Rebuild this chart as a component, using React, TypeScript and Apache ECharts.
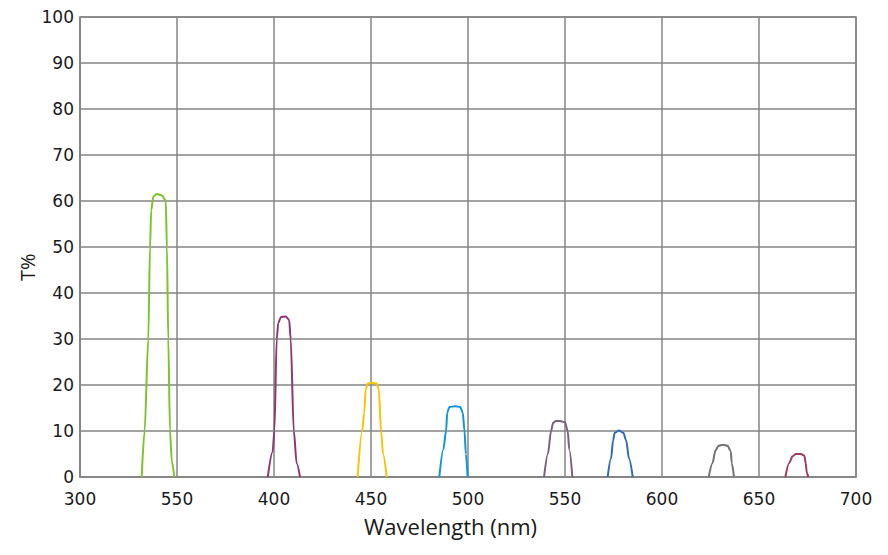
import React, { useEffect, useRef } from "react";
import * as echarts from "echarts";

const xTickLabels = ["300", "550", "400", "450", "500", "550", "600", "650", "700"];
const yTicks = [0, 10, 20, 30, 40, 50, 60, 70, 80, 90, 100];

const greenCurve = [[331.8,0],[333.3,10],[335.2,30],[336.1,50],[336.7,58],[337.8,61],[339.7,61.5],[342.3,61.2],[344.2,60],[344.8,50],[345.5,30],[346.4,10],[347.3,3.5],[348.6,0]];
const purpleCurve = [[396.8,0],[399.3,5.5],[400.2,10],[401.4,30],[402.2,33.5],[403.6,34.8],[406,34.9],[407.8,34.2],[408.6,30],[410.2,10],[411.7,3],[413.4,0]];
const yellowCurve = [[443.1,0],[445.5,10],[446.5,14],[447.3,19],[448.3,20.3],[450.5,20.5],[453,20.3],[454,19],[455.2,10],[456.2,5],[458.1,0]];
const blueCurve = [[485.2,0],[487.3,6],[488.7,10],[489.3,14],[490.4,15.2],[493.3,15.4],[496,15.2],[497.3,14],[498.2,10],[498.9,5],[499.8,0]];
const mauveCurve = [[539.2,0],[541.2,5],[542.8,10],[543.9,11.8],[545.4,12.2],[547.4,12.2],[550,11.9],[551.4,10],[552.2,6],[553.8,0]];
const darkBlueCurve = [[572,0],[573.7,4],[574.8,8],[575.6,9.6],[577.8,10.1],[580.1,9.6],[581.5,8],[583,4],[584.9,0]];
const grayCurve = [[624.1,0],[626,3],[627.6,5.8],[629.2,6.8],[631.4,7],[633.8,6.8],[635.4,5.6],[636,3],[637.1,0]];
const maroonCurve = [[663.6,0],[665.5,3],[667.3,4.5],[669,5],[671.6,5],[673.4,4.6],[674.1,3],[674.6,1],[675.4,0]];

const curves = [
  { name: "f1", data: greenCurve, color: "#7cc42a" },
  { name: "f2", data: purpleCurve, color: "#8c3872" },
  { name: "f3", data: yellowCurve, color: "#f8c400" },
  { name: "f4", data: blueCurve, color: "#0f95d6" },
  { name: "f5", data: mauveCurve, color: "#7a5f7c" },
  { name: "f6", data: darkBlueCurve, color: "#2f6db3" },
  { name: "f7", data: grayCurve, color: "#727272" },
  { name: "f8", data: maroonCurve, color: "#9c3a62" },
];

export default function App() {
  const ref = useRef<HTMLDivElement>(null);
  useEffect(() => {
    if (!ref.current) return;
    const chart = echarts.init(ref.current, undefined, { renderer: "svg" });
    const gridColor = "#858585";
    chart.setOption({
      animation: false,
      backgroundColor: "#ffffff",
      grid: { left: 80, right: 32, top: 17, bottom: 78, show: true, borderColor: gridColor, borderWidth: 1.5 },
      xAxis: {
        type: "value",
        min: 300,
        max: 700,
        interval: 50,
        axisLine: { show: true, lineStyle: { color: gridColor, width: 1.5 } },
        axisTick: { show: false },
        splitLine: { show: true, lineStyle: { color: gridColor, width: 1.5 } },
        axisLabel: {
          margin: 13,
          fontFamily: "DejaVu Sans",
          fontSize: 17,
          color: "#1a1a1a",
          formatter: (v: number) => xTickLabels[Math.round((v - 300) / 50)] ?? "",
        },
      },
      yAxis: {
        type: "value",
        min: yTicks[0],
        max: yTicks[yTicks.length - 1],
        interval: 10,
        axisLine: { show: true, lineStyle: { color: gridColor, width: 1.5 } },
        axisTick: { show: false },
        splitLine: { show: true, lineStyle: { color: gridColor, width: 1.5 } },
        axisLabel: { margin: 6, fontFamily: "DejaVu Sans", fontSize: 17, color: "#1a1a1a" },
      },
      graphic: [
        {
          type: "text",
          left: 364,
          top: 515,
          style: { text: "Wavelength (nm)", font: '22px "Open Sans"', fill: "#1a1a1a" },
        },
        {
          type: "text",
          x: 17,
          y: 281,
          rotation: Math.PI / 2,
          style: { text: "T%", font: '20px "Open Sans"', fill: "#1a1a1a" },
        },
      ],
      series: curves.map((c) => ({
        type: "line",
        name: c.name,
        data: c.data,
        smooth: 0.3,
        smoothMonotone: "x",
        showSymbol: false,
        lineStyle: { color: c.color, width: 2 },
        itemStyle: { color: c.color },
      })),
    });
    return () => chart.dispose();
  }, []);
  return <div ref={ref} style={{ width: 888, height: 555, position: "absolute", left: 0, top: 0 }} />;
}
